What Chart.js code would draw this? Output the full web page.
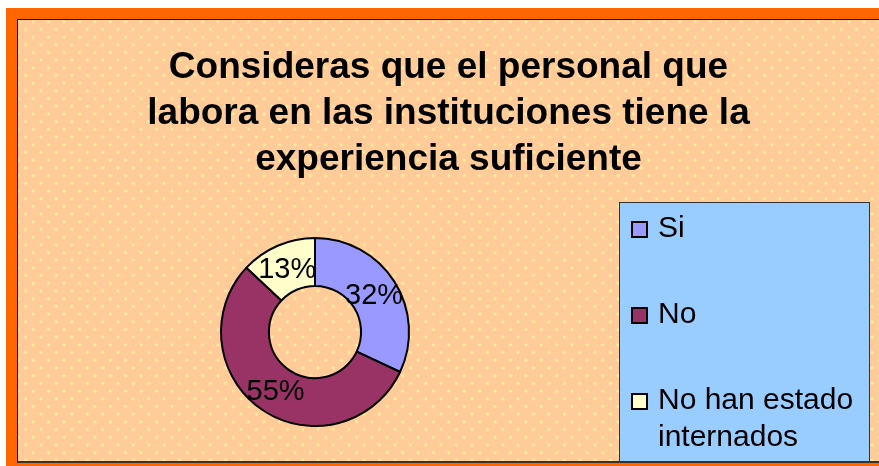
<!DOCTYPE html>
<html>
<head>
<meta charset="utf-8">
<script src="https://cdn.jsdelivr.net/npm/chart.js@4.4.1/dist/chart.umd.min.js"></script>
<style>
  body { margin: 0; background: #fff; width: 879px; height: 466px; overflow: hidden; position: relative; }
  #frame { position: absolute; left: 6px; top: 8px; width: 873px; height: 458px; background: #FF6600; }
  #inner {
    position: absolute; left: 11px; top: 11px; width: 870px; height: 441px;
    border-left: 1px solid #000; border-top: 1px solid #000; border-bottom: 2px solid #333;
    background-color: #FFCC99;
    background-image: radial-gradient(circle, #FFF09C 1.2px, rgba(255,240,156,0) 1.8px),
                      radial-gradient(circle, #FFF09C 1.2px, rgba(255,240,156,0) 1.8px);
    background-size: 15.4px 15.4px, 15.4px 15.4px;
    background-position: 7.6px -6px, -0.1px 1.6px;
  }
  canvas { position: absolute; left: 0; top: 0; }
</style>
</head>
<body>
<div id="frame"><div id="inner"><canvas id="pie-chart" width="861" height="441"></canvas></div></div>
<script>
const titleLines = ["Consideras que el personal que", "labora en las instituciones tiene la", "experiencia suficiente"];
const categories = ["Si", "No", "No han estado internados"];
const percentages = [32, 55, 13];
const sliceColors = ["#9999FF", "#993366", "#FFFFCC"];

const FONT = "'Liberation Sans', Arial, sans-serif";

// percent labels on each slice
const sliceLabels = {
  id: 'sliceLabels',
  afterDatasetsDraw(chart) {
    const ctx = chart.ctx;
    const meta = chart.getDatasetMeta(0);
    ctx.save();
    ctx.font = "29px " + FONT;
    ctx.fillStyle = "#000";
    ctx.textAlign = "center";
    ctx.textBaseline = "middle";
    meta.data.forEach((arc, i) => {
      const p = arc.tooltipPosition();
      ctx.fillText(percentages[i] + "%", p.x, p.y + 2);
    });
    ctx.restore();
  }
};

// legend on the right, as a layout box so the doughnut moves left but the title stays centred
const sideLegend = {
  id: 'sideLegend',
  beforeInit(chart) {
    const box = {
      position: 'right', weight: 0, fullSize: false, options: {},
      width: 0, height: 0, left: 0, top: 0, right: 0, bottom: 0,
      isHorizontal() { return false; },
      update(maxWidth, maxHeight) { this.width = 267; this.height = maxHeight; },
      draw() {
        const ctx = chart.ctx;
        const lx = this.left + 7, ly = 182, lw = 251, lh = 259;
        ctx.save();
        ctx.fillStyle = "#99CCFF";
        ctx.fillRect(lx, ly, lw, lh);
        ctx.strokeStyle = "#333";
        ctx.lineWidth = 1;
        ctx.strokeRect(lx + 0.5, ly + 0.5, lw - 1, lh);
        ctx.font = "30px " + FONT;
        ctx.textBaseline = "middle";
        ctx.textAlign = "left";
        categories.forEach((label, i) => {
          const cy = ly + 27 + i * 86;
          ctx.fillStyle = sliceColors[i];
          ctx.fillRect(lx + 13, cy - 7, 15, 15);
          ctx.strokeStyle = "#000";
          ctx.lineWidth = 2;
          ctx.strokeRect(lx + 13, cy - 7, 15, 15);
          ctx.fillStyle = "#000";
          // simple word wrap
          const words = label.split(" ");
          let line = "", row = 0;
          words.forEach(w => {
            const test = line ? line + " " + w : w;
            if (ctx.measureText(test).width > 205 && line) {
              ctx.fillText(line, lx + 39, cy + row * 37);
              line = w; row++;
            } else {
              line = test;
            }
          });
          ctx.fillText(line, lx + 39, cy + row * 37);
        });
        ctx.restore();
      }
    };
    Chart.layouts.addBox(chart, box);
  }
};

new Chart(document.getElementById("pie-chart"), {
  type: 'doughnut',
  data: {
    labels: categories,
    datasets: [{
      data: percentages,
      backgroundColor: sliceColors,
      borderColor: "#000",
      borderWidth: 2,
      radius: 94,
      cutout: '49%'
    }]
  },
  options: {
    responsive: false,
    animation: false,
    layout: { padding: 0 },
    plugins: {
      legend: { display: false },
      tooltip: { enabled: false },
      title: {
        display: true,
        text: titleLines,
        color: "#000",
        font: { family: FONT, size: 37, weight: 'bold', lineHeight: '46px' },
        padding: { top: 24.5, bottom: 20.5 }
      }
    }
  },
  plugins: [sliceLabels, sideLegend]
});
</script>
</body>
</html>
